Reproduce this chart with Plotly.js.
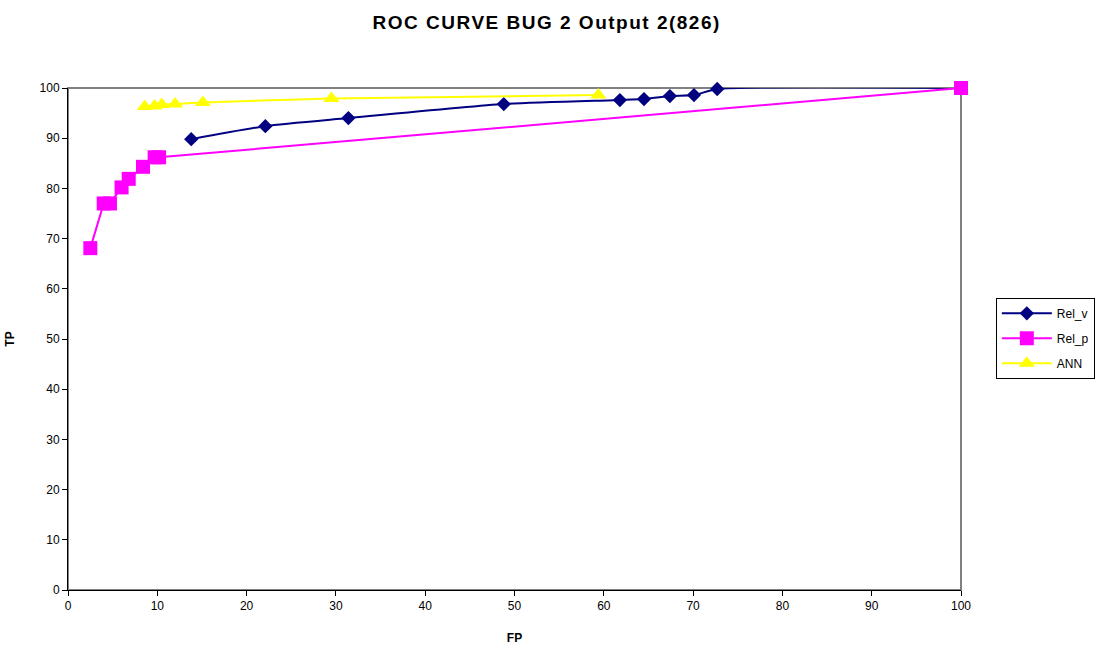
<!DOCTYPE html>
<html>
<head>
<meta charset="utf-8">
<script src="https://cdn.plot.ly/plotly-3.0.1.min.js"></script>
<style>html,body{margin:0;padding:0;background:#fff;}#chart{width:1118px;height:649px;}
.gtitle{letter-spacing:1.5px;}</style>
</head>
<body>
<div id="chart"></div>
<script>
const relvFP = [13.8, 22.1, 31.4, 48.8, 61.8, 64.5, 67.4, 70.1, 72.7, 100];
const relvTP = [89.8, 92.4, 94.0, 96.8, 97.6, 97.8, 98.4, 98.6, 99.8, 100];
const relpFP = [2.5, 4.0, 4.7, 6.0, 6.8, 8.4, 9.7, 10.2, 100];
const relpTP = [68.1, 77.0, 77.0, 80.2, 81.9, 84.3, 86.2, 86.2, 100];
const annFP = [8.6, 9.7, 10.5, 12.0, 15.1, 29.5, 59.4];
const annTP = [96.3, 96.4, 96.7, 96.8, 97.1, 97.9, 98.6];
const seriesNames = ["Rel_v", "Rel_p", "ANN"];
const xTicks = [0,10,20,30,40,50,60,70,80,90,100];
const yTicks = [0,10,20,30,40,50,60,70,80,90,100];

const traces = [
  {x: relvFP, y: relvTP, name: seriesNames[0], legendgroup: 'a', mode: 'lines+markers', type: 'scatter', cliponaxis: false,
   line: {color: '#000080', width: 2, shape: 'spline', smoothing: 0.6},
   marker: {symbol: 'diamond', size: 11, color: '#000080'}},
  {x: relpFP, y: relpTP, name: seriesNames[1], legendgroup: 'b', mode: 'lines+markers', type: 'scatter', cliponaxis: false,
   line: {color: '#FF00FF', width: 2},
   marker: {symbol: 'square', size: 14, color: '#FF00FF'}},
  {x: annFP, y: annTP, name: seriesNames[2], legendgroup: 'c', mode: 'lines+markers', type: 'scatter', cliponaxis: false,
   line: {color: '#FFFF00', width: 2, shape: 'spline', smoothing: 0.6},
   marker: {symbol: 'triangle-up', size: 14, color: '#FFFF00'}}
];

const layout = {
  width: 1118, height: 649,
  margin: {l: 68, r: 157, t: 88, b: 59},
  paper_bgcolor: '#fff', plot_bgcolor: '#fff',
  font: {family: 'Liberation Sans, Arial, sans-serif', size: 12, color: '#000'},
  title: {text: '<b>ROC CURVE BUG 2 Output 2(826)</b>', x: 0.489, xref: 'container', xanchor: 'center', y: 0.966, yanchor: 'middle',
          font: {family: 'Liberation Sans, Arial, sans-serif', size: 19, color: '#000'}},
  xaxis: {range: [0, 100], tickvals: xTicks, ticktext: xTicks.map(String), ticks: 'outside', ticklen: 5,
          tickcolor: '#000', showline: true, linecolor: '#000', linewidth: 1, showgrid: false, zeroline: false,
          title: {text: '<b>FP</b>', font: {size: 12}, standoff: 21}, tickfont: {size: 12}},
  yaxis: {range: [0, 100], tickvals: yTicks, ticktext: yTicks.map(String), ticks: 'outside', ticklen: 5,
          tickcolor: '#000', showline: true, linecolor: '#000', linewidth: 1, showgrid: false, zeroline: false,
          title: {text: '<b>TP</b>', font: {size: 12}, standoff: 22}, tickfont: {size: 12}},
  shapes: [{type: 'rect', xref: 'paper', yref: 'paper', x0: 0, x1: 1, y0: 0, y1: 1,
            line: {color: '#808080', width: 2}, layer: 'below'}],
  legend: {x: 1.039, y: 0.582, xanchor: 'left', yanchor: 'top', bordercolor: '#000', borderwidth: 1,
           bgcolor: '#fff', font: {size: 12}, itemwidth: 50, traceorder: 'grouped', tracegroupgap: 6},
  showlegend: true
};

Plotly.newPlot('chart', traces, layout, {displayModeBar: false, staticPlot: true});
</script>
</body>
</html>
